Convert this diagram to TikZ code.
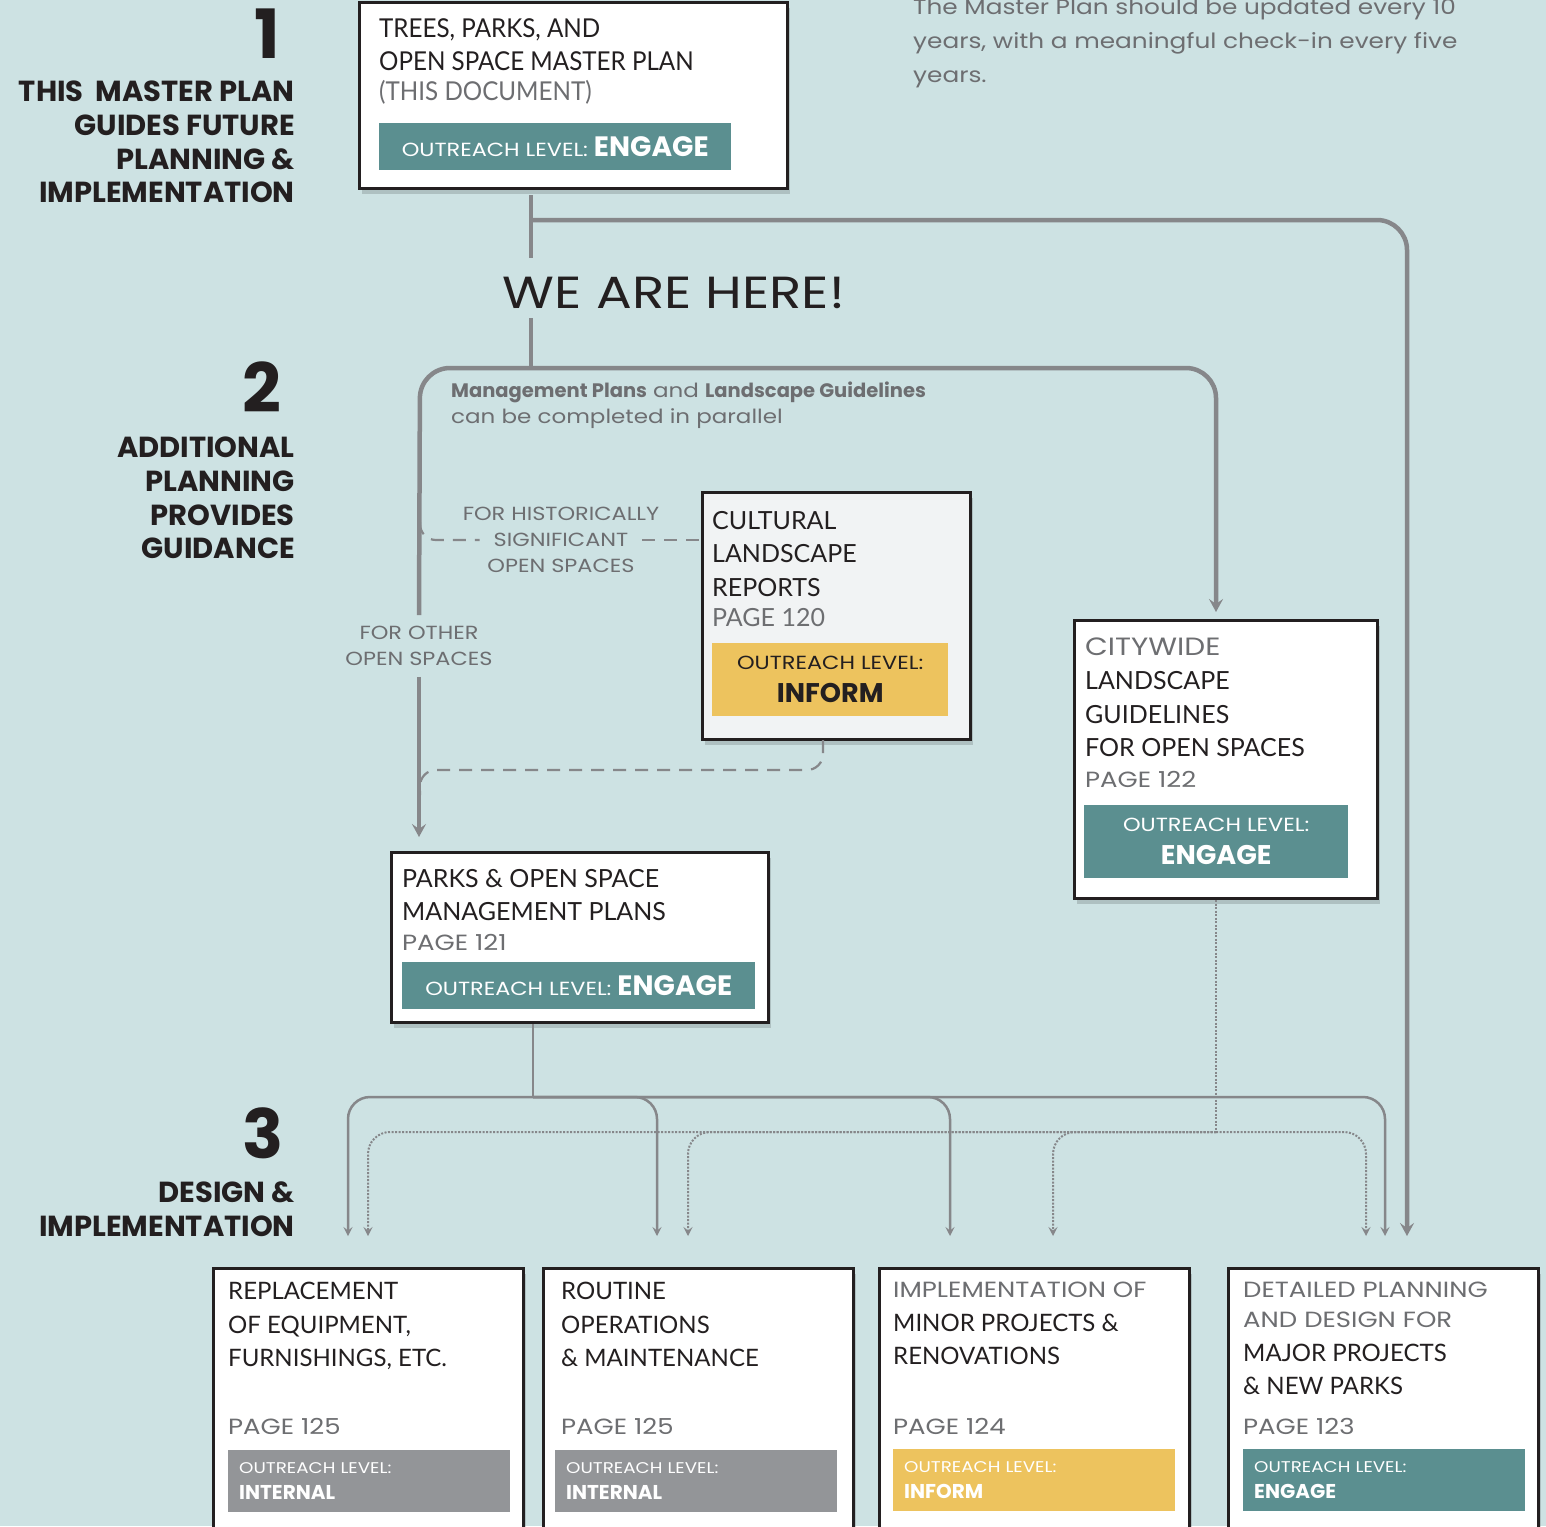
\documentclass[tikz,border=0pt]{standalone}
\usepackage{fontspec}
\setmainfont{Lato}
\newfontfamily\condfont[FakeStretch=0.93]{Lato}
\newfontfamily\montfont[FakeStretch=1.18]{Poppins}
\newfontfamily\montbf{Poppins}
\usetikzlibrary{positioning,arrows.meta,shadows}

\definecolor{bgteal}{HTML}{CDE2E3}
\definecolor{flowgray}{HTML}{86878A}
\definecolor{engteal}{HTML}{5B8F90}
\definecolor{infoyellow}{HTML}{EDC35E}
\definecolor{intgray}{HTML}{939598}
\definecolor{inkdark}{HTML}{231F20}
\definecolor{inkgray}{HTML}{6D6E71}
\definecolor{cultfill}{HTML}{F1F3F4}

\newcommand{\lvlsmall}{\montfont\fontsize{19}{19}\selectfont}
\newcommand{\lvlbig}{\montbf\bfseries\fontsize{28}{28}\selectfont}

\tikzset{
  panel/.style={draw=inkdark, line width=3pt, fill=white, anchor=north west, inner sep=0pt,
    drop shadow={shadow xshift=2pt, shadow yshift=-5pt, opacity=.15, fill=black}},
  lvlbar/.style={anchor=north west, inner sep=0pt, text=white, align=center},
  botbar/.style={lvlbar, align=left, text width=260pt, inner xsep=11pt, minimum width=282pt,
    minimum height=62pt, font=\montfont\fontsize{15.5}{25.5}\selectfont},
  boxtitle/.style={anchor=north west, inner sep=0pt, align=left, text=inkdark,
    font=\condfont\fontsize{26}{33.7}\selectfont},
  bottitle/.style={boxtitle, font=\fontsize{24}{33.5}\selectfont},
  pagetag/.style={anchor=base west, inner sep=0pt, text=inkgray,
    font=\montfont\fontsize{22}{22}\selectfont},
  sectnum/.style={anchor=base east, inner sep=0pt, text=inkdark,
    font=\montbf\bfseries\fontsize{68}{68}\selectfont},
  sectlbl/.style={anchor=north east, inner sep=0pt, align=right, text=inkdark,
    font=\montbf\bfseries\fontsize{29}{33.7}\selectfont},
  note/.style={inner sep=0pt, text=inkgray, font=\montfont\fontsize{19}{26}\selectfont},
  flowthick/.style={draw=flowgray, line width=4.5pt, rounded corners=30pt},
  flowthin/.style={draw=flowgray, line width=2.5pt, rounded corners=22pt},
  flowdot/.style={draw=flowgray, line width=2pt, dash pattern=on 2pt off 1.5pt, rounded corners=22pt},
  flowdash/.style={draw=flowgray, line width=2.2pt, dash pattern=on 13pt off 9pt, rounded corners=16pt},
  bigtip/.style={-{Stealth[length=13pt,width=14pt,inset=5pt]}},
  smalltip/.style={-{Stealth[length=9pt,width=9pt,inset=3.5pt]}},
}

\begin{document}
\begin{tikzpicture}[x=1pt, y=-1pt]

\useasboundingbox (0,0) rectangle (1546,1526);
\fill[bgteal] (0,0) rectangle (1546,1526);

% ===== Section labels =====
\node[sectnum] (num1) at (280,58) {1};
\node[sectlbl] (lbl1) at (295,81) {THIS~~MASTER PLAN\\GUIDES FUTURE\\PLANNING \&\\IMPLEMENTATION};
\node[sectnum] (num2) at (282,412) {2};
\node[sectlbl] (lbl2) at (295,437) {ADDITIONAL\\PLANNING\\PROVIDES\\GUIDANCE};
\node[sectnum] (num3) at (284,1158) {3};
\node[sectlbl] (lbl3) at (295,1182) {DESIGN \&\\IMPLEMENTATION};

% ===== Notes =====
\node[note, anchor=north west, align=left, font=\montfont\fontsize{21}{34}\selectfont] (cadence) at (913,-1) {The Master Plan should be updated every 10\\years, with a meaningful check-in every five\\years.};
\node[inner sep=0pt, text=inkdark, font=\montfont\fontsize{45}{45}\selectfont] (here) at (674,293) {WE ARE HERE!};
\node[note, anchor=north west, align=left, font=\montfont\fontsize{19.5}{26}\selectfont] (parallel) at (451,382) {{\montbf\bfseries Management Plans} and {\montbf\bfseries Landscape Guidelines}\\can be completed in parallel};
\node[note, inner xsep=14pt] (hist2) at (561,540) {SIGNIFICANT};
\node[note, above=12pt of hist2] (hist1) {FOR HISTORICALLY};
\node[note, below=12pt of hist2] (hist3) {OPEN SPACES};
\node[note, align=center, inner ysep=11pt] (otherlbl) at (419,646) {FOR OTHER\\OPEN SPACES};

% ===== Step 1 box =====
\node[panel, minimum width=428pt, minimum height=186pt] (mplan) at (358,1) {};
\node[boxtitle] (mplantitle) at (379,18) {TREES, PARKS, AND\\OPEN SPACE MASTER PLAN\\[-4pt]\textcolor{inkgray}{(THIS DOCUMENT)}};
\node[lvlbar, fill=engteal, minimum width=352pt, minimum height=47pt] (mplanlvl) at (379,123) {\lvlsmall OUTREACH LEVEL: {\lvlbig ENGAGE}};

% ===== Step 2 boxes =====
\node[panel, fill=cultfill, minimum width=268pt, minimum height=247pt] (cult) at (701,491) {};
\node[boxtitle, font=\fontsize{25}{33.5}\selectfont] (culttitle) at (712,511) {CULTURAL\\LANDSCAPE\\REPORTS\\[-3.5pt]\textcolor{inkgray}{PAGE 120}};
\node[lvlbar, fill=infoyellow, text=inkdark, minimum width=236pt, minimum height=73pt, font=\montfont\fontsize{19}{33}\selectfont] (cultlvl) at (712,643) {OUTREACH LEVEL:\\{\montbf\bfseries\fontsize{27}{27}\selectfont INFORM}};

\node[panel, minimum width=303pt, minimum height=278pt] (cw) at (1073,619) {};
\node[boxtitle, font=\fontsize{25}{33.7}\selectfont] (cwtitle) at (1085,638) {\textcolor{inkgray}{\montfont CITYWIDE}\\LANDSCAPE\\GUIDELINES\\FOR OPEN SPACES\\[-3.5pt]\textcolor{inkgray}{\montfont\fontsize{22}{22}\selectfont PAGE 122}};
\node[lvlbar, fill=engteal, minimum width=264pt, minimum height=73pt, font=\montfont\fontsize{19}{33}\selectfont] (cwlvl) at (1084,805) {OUTREACH LEVEL:\\{\montbf\bfseries\fontsize{27}{27}\selectfont ENGAGE}};

\node[panel, minimum width=377pt, minimum height=170pt] (pm) at (390,851) {};
\node[boxtitle, font=\fontsize{25}{33}\selectfont] (pmtitle) at (402,869) {PARKS \& OPEN SPACE\\MANAGEMENT PLANS\\[-3pt]\textcolor{inkgray}{\montfont\fontsize{22}{22}\selectfont PAGE 121}};
\node[lvlbar, fill=engteal, minimum width=353pt, minimum height=47pt] (pmlvl) at (402,962) {\lvlsmall OUTREACH LEVEL: {\lvlbig ENGAGE}};

% ===== Step 3 boxes =====
\node[panel, minimum width=310pt, minimum height=290pt] (repl) at (212,1267) {};
\node[bottitle] (repltitle) at (228,1282) {REPLACEMENT\\OF EQUIPMENT,\\FURNISHINGS, ETC.};
\node[pagetag] (replpage) at (228,1434) {PAGE 125};
\node[botbar, fill=intgray] (repllvl) at (228,1450) {OUTREACH LEVEL:\\{\montbf\bfseries\fontsize{20}{20}\selectfont INTERNAL}};

\node[panel, minimum width=310pt, minimum height=290pt] (routine) at (542,1267) {};
\node[bottitle] (routinetitle) at (561,1282) {ROUTINE\\OPERATIONS\\\& MAINTENANCE};
\node[pagetag] (routinepage) at (561,1434) {PAGE 125};
\node[botbar, fill=intgray] (routinelvl) at (555,1450) {OUTREACH LEVEL:\\{\montbf\bfseries\fontsize{20}{20}\selectfont INTERNAL}};

\node[panel, minimum width=310pt, minimum height=290pt] (minor) at (878,1267) {};
\node[bottitle] (minortitle) at (893,1282) {\textcolor{inkgray}{\montfont\fontsize{22}{22}\selectfont IMPLEMENTATION OF}\\MINOR PROJECTS \&\\RENOVATIONS};
\node[pagetag] (minorpage) at (893,1434) {PAGE 124};
\node[botbar, fill=infoyellow] (minorlvl) at (893,1449) {OUTREACH LEVEL:\\{\montbf\bfseries\fontsize{20}{20}\selectfont INFORM}};

\node[panel, minimum width=310pt, minimum height=290pt] (major) at (1227,1267) {};
\node[bottitle] (majortitle) at (1243,1282) {\textcolor{inkgray}{\montfont\fontsize{22}{22}\selectfont DETAILED PLANNING}\\[-3.5pt]\textcolor{inkgray}{\montfont\fontsize{22}{22}\selectfont AND DESIGN FOR}\\MAJOR PROJECTS\\\& NEW PARKS};
\node[pagetag] (majorpage) at (1243,1434) {PAGE 123};
\node[botbar, fill=engteal] (majorlvl) at (1243,1449) {OUTREACH LEVEL:\\{\montbf\bfseries\fontsize{20}{20}\selectfont ENGAGE}};

% ===== Connectors, top =====
\coordinate (mpdrop) at (531,195);
\coordinate (tee) at (531,220);
\coordinate (hereTop) at (531,258);
\coordinate (hereBot) at (531,318);
\coordinate (split) at (531,368);
\coordinate (splitL) at (420,368);
\coordinate (splitR) at (1216,368);
\coordinate (rtop) at (1407,220);
\coordinate (rend) at (1407,1236);

\draw[flowthick] (mpdrop) -- (hereTop);
\draw[flowthick] (hereBot) -- (split);
\draw[flowthick, bigtip] (tee) -- (rtop) -- (rend);
\draw[flowthick, bigtip, shorten >=7pt] (otherlbl.north) -- (splitL) -- (splitR) -- (splitR |- cw.north);
\draw[flowthick, bigtip, shorten >=14pt] (otherlbl.south) -- (otherlbl.south |- pm.north);

% ===== Dashed branch for cultural reports =====
\coordinate (histL) at (420,522);
\coordinate (cultdrop) at (823,740);
\coordinate (merge) at (420,770);
\coordinate (mergeEnd) at (420,795);
\draw[flowdash] (histL) |- (hist2.west);
\draw[flowdash] (hist2.east) -- (cult.west |- hist2.east);
\draw[flowdash] (cultdrop) |- (merge) -- (mergeEnd);

% ===== Connectors, bottom =====
\coordinate (hub) at (533,1097);
\coordinate (dhub) at (1216,1132);
\foreach \n/\x in {sA/348,sB/657,sC/950,sD/1385} \coordinate (\n) at (\x,1236);
\foreach \n/\x in {dA/368,dB/688,dC/1053,dD/1366} \coordinate (\n) at (\x,1236);

\draw[flowthin] (hub |- pm.south) -- (hub);
\foreach \e in {sA,sB,sC,sD} \draw[flowthin, smalltip] (hub) -| (\e);
\draw[flowdot] (dhub |- cw.south) -- (dhub);
\foreach \e in {dA,dB,dC,dD} \draw[flowdot, smalltip] (dhub) -| (\e);

\end{tikzpicture}
\end{document}
